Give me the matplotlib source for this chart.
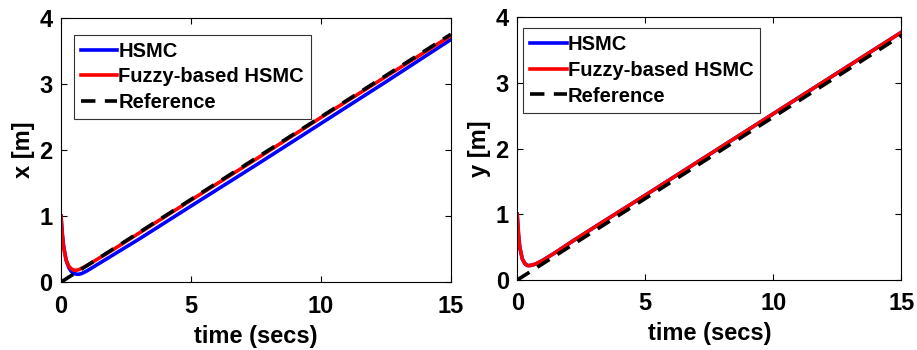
import numpy as np
import matplotlib
matplotlib.use('Agg')
import matplotlib.pyplot as plt

# sampled time instants (s)
t = [0, 0.05, 0.1, 0.2, 0.3, 0.4, 0.5, 0.6, 0.7, 0.8, 1.0, 1.5, 2, 3, 5, 7.5, 10, 12.5, 15]
t_ref = [0, 15]

# x position
x_hsmc = [1.0, 0.74, 0.55, 0.33, 0.22, 0.16, 0.13, 0.12, 0.12, 0.13, 0.17, 0.29, 0.41, 0.65, 1.15, 1.77, 2.40, 3.03, 3.67]
x_fuzzy = [1.0, 0.72, 0.53, 0.33, 0.24, 0.20, 0.18, 0.18, 0.19, 0.21, 0.25, 0.37, 0.49, 0.74, 1.24, 1.86, 2.49, 3.11, 3.73]
x_ref = [0, 3.75]

# y position
y_hsmc = [1.0, 0.70, 0.50, 0.32, 0.25, 0.22, 0.22, 0.23, 0.24, 0.26, 0.30, 0.42, 0.55, 0.80, 1.29, 1.91, 2.53, 3.15, 3.77]
y_fuzzy = [1.0, 0.70, 0.50, 0.32, 0.25, 0.22, 0.22, 0.23, 0.24, 0.26, 0.30, 0.42, 0.55, 0.80, 1.29, 1.91, 2.53, 3.15, 3.77]
y_ref = [0, 3.72]

plt.rcParams['font.family'] = ['Liberation Sans', 'DejaVu Sans']
plt.rcParams['font.weight'] = 'bold'

fig = plt.figure(figsize=(9.17, 3.5), dpi=100)
ax1 = fig.add_axes([0.0665, 0.194, 0.425, 0.755])
ax2 = fig.add_axes([0.564, 0.200, 0.419, 0.751])

panels = [
    (ax1, x_hsmc, x_fuzzy, x_ref, 'x [m]', (0.033, 0.936)),
    (ax2, y_hsmc, y_fuzzy, y_ref, 'y [m]', (0.016, 0.958)),
]

for ax, hs, fz, rf, ylab, anchor in panels:
    ax.plot(t, hs, color='#0000ff', lw=2.6, label='HSMC')
    ax.plot(t, fz, color='#ff0000', lw=2.6, label='Fuzzy-based HSMC')
    ax.plot(t_ref, rf, color='black', lw=2.6, ls=(0, (4, 2.6)), label='Reference')
    ax.set_xlim(0, 15)
    ax.set_ylim(0, 4)
    ax.set_xticks([0, 5, 10, 15])
    ax.set_yticks([0, 1, 2, 3, 4])
    ax.tick_params(direction='in', top=True, right=True, labelsize=17, length=4, width=0.8)
    ax.tick_params(axis='x', pad=9)
    ax.tick_params(axis='y', pad=6)
    for lbl in ax.get_xticklabels() + ax.get_yticklabels():
        lbl.set_fontweight('bold')
    for sp in ax.spines.values():
        sp.set_linewidth(0.8)
    ax.set_xlabel('time (secs)', fontsize=17, fontweight='bold', labelpad=5)
    ax.set_ylabel(ylab, fontsize=17, fontweight='bold', labelpad=3)
    leg = ax.legend(loc='upper left', bbox_to_anchor=anchor,
                    prop={'size': 14.5, 'weight': 'bold'}, fancybox=False, framealpha=1,
                    edgecolor='#333333', handlelength=1.8, handletextpad=0.05,
                    borderpad=0.35, labelspacing=0.33, borderaxespad=0)
    leg.get_frame().set_linewidth(0.8)

fig.savefig('out.png', dpi=100)
